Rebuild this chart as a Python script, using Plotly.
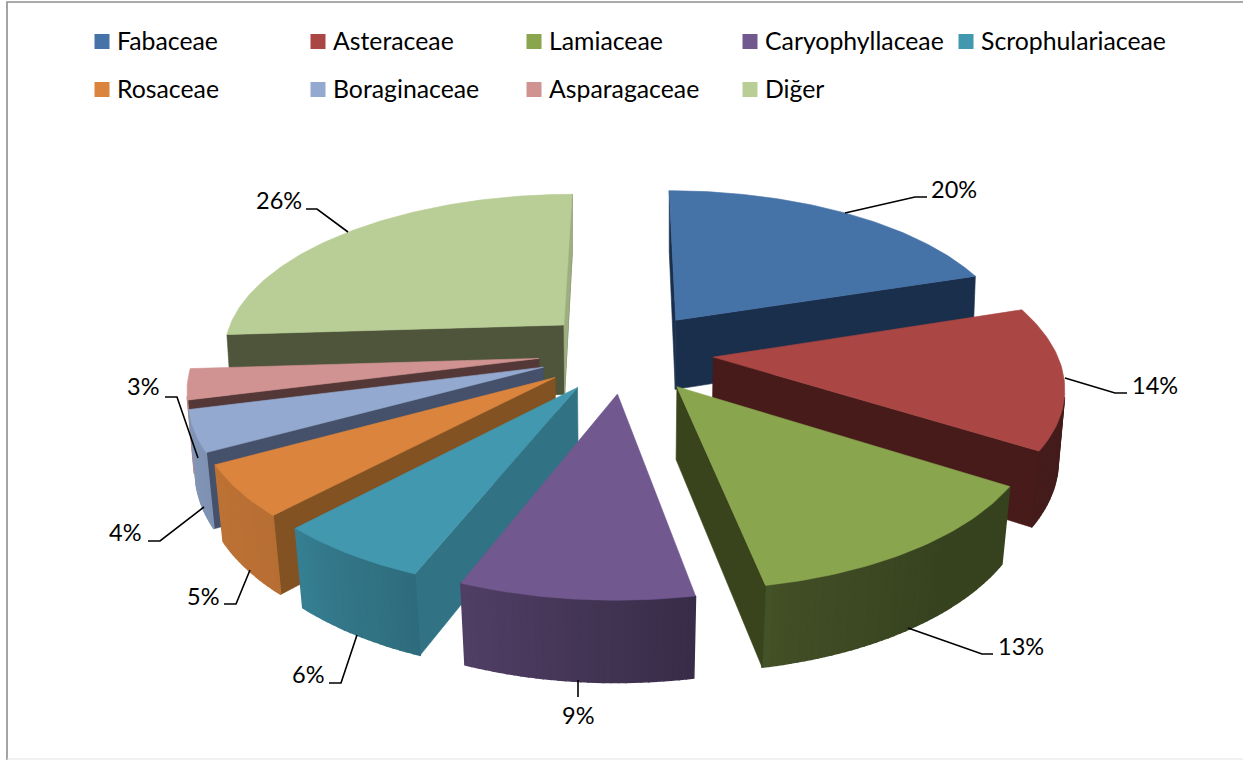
import numpy as np
import plotly.graph_objects as go

# ---- data ----
families = ["Fabaceae", "Asteraceae", "Lamiaceae", "Caryophyllaceae", "Scrophulariaceae",
            "Rosaceae", "Boraginaceae", "Asparagaceae", "Diğer"]
shares = [20, 14, 13, 9, 6, 5, 4, 3, 26]

# ---- styles ----
top_colors = ["#4572A7", "#AA4643", "#89A54E", "#71588F", "#4198AF",
              "#DB843D", "#93A9CF", "#D19392", "#B9CD96"]
cut_colors = ["#1A2F4B", "#471B19", "#39441D", "#3A2C4E", "#317385",
              "#835222", "#45506A", "#543838", "#4E553A"]
FONT = "Lato"
LEGEND_SIZE = 24.8
LABEL_SIZE = 23.5

# ---- 3D pie projection (perspective of the ground plane) ----
CX, CY = 626, 352
RX, RY = 343, 159
PERSP = 0.157
EXPLODE = 0.255


def project(u, v):
    s = 1 / (1 - PERSP * v)
    return CX + RX * u * s, CY + RY * v * s


def drop(u, v):
    x, y = project(u, v)
    return CX + (x - CX) * (1 - 0.0105 * (v + 1.2)), y + 71 + 9 * v


def shade(hex_color, k):
    rgb = [int(hex_color[i:i + 2], 16) for i in (1, 3, 5)]
    return "rgb(%d,%d,%d)" % tuple(round(c * k) for c in rgb)


def wall_brightness(deg):
    return float(np.interp(deg, [90, 140, 165, 200, 225, 265], [.40, .40, .47, .70, .84, .90]))


def poly(points, color, name, group, width=0.6):
    xs = [p[0] for p in points] + [points[0][0]]
    ys = [p[1] for p in points] + [points[0][1]]
    return go.Scatter(x=xs, y=ys, mode="lines", fill="toself", fillcolor=color,
                      line=dict(color=color, width=width), name=name, legendgroup=group,
                      showlegend=False, hoverinfo="name")


def signed_area(q):
    return sum(q[i][0] * q[(i + 1) % len(q)][1] - q[(i + 1) % len(q)][0] * q[i][1]
               for i in range(len(q)))


edges = np.cumsum([0] + shares) / sum(shares) * 360
slices = []
for i, name in enumerate(families):
    a0, a1 = edges[i], edges[i + 1]
    mid = np.radians((a0 + a1) / 2)
    ou, ov = EXPLODE * np.sin(mid), -EXPLODE * np.cos(mid)
    slices.append((ov, i, a0, a1, ou, ov))

fig = go.Figure()
for _, i, a0, a1, ou, ov in sorted(slices):
    name = families[i]
    degs = np.linspace(a0, a1, max(8, int(a1 - a0)))
    ground = [(ou, ov)] + [(ou + np.sin(np.radians(d)), ov - np.cos(np.radians(d))) for d in degs]
    tops = [project(*g) for g in ground]
    bots = [drop(*g) for g in ground]
    n = len(ground)
    for j in range(n):
        k = (j + 1) % n
        quad = [tops[j], tops[k], bots[k], bots[j]]
        if signed_area(quad) >= 0:
            continue
        if j == 0 or k == 0:
            fig.add_trace(poly(quad, cut_colors[i], name, name))
        else:
            col = shade(top_colors[i], wall_brightness((degs[j - 1] + degs[k - 1]) / 2))
            fig.add_trace(poly(quad, col, name, name, width=1.5))
    # Diğer shows a lighter closing cut face at 12 o'clock
    if name == "Diğer":
        quad = [tops[n - 1], tops[0], bots[0], bots[n - 1]]
        fig.add_trace(poly(quad, shade(top_colors[i], 0.85), name, name))
    fig.add_trace(poly(tops, top_colors[i], name, name))

# ---- legend ----
legend_cols = [102, 318, 534, 750, 966]
legend_rows = [41.5, 89.5]
annotations = []
for i, name in enumerate(families):
    lx = legend_cols[i % 5]
    ly = legend_rows[i // 5]
    fig.add_trace(go.Scatter(x=[lx], y=[ly], mode="markers", name=name, showlegend=False,
                             marker=dict(symbol="square", size=15, color=top_colors[i]),
                             hoverinfo="name"))
    annotations.append(dict(x=lx + 13, y=ly - 1, text=name, xanchor="left", yanchor="middle",
                            showarrow=False, xref="x", yref="y",
                            font=dict(family=FONT, size=LEGEND_SIZE, color="#000000")))

# ---- data labels and their leaders (manual layout in the original) ----
label_xy = [(954, 189), (1155, 385), (1021, 646), (578, 715), (308, 674),
            (203, 596), (125, 532), (143, 386), (279, 200)]
leaders = [
    [(845, 213), (915, 197), (927, 197)],
    [(1065, 378), (1115, 393), (1127, 393)],
    [(908, 628), (982, 654), (993, 654)],
    [(578, 680), (578, 697)],
    [(357, 635), (341, 683), (329, 683)],
    [(250, 570), (236, 604), (224, 604)],
    [(204, 507), (160, 541), (148, 541)],
    [(198, 458), (177, 397), (165, 397)],
    [(348, 232), (317, 209), (306, 209)],
]
shapes = []
for share, (lx, ly), path in zip(shares, label_xy, leaders):
    annotations.append(dict(x=lx, y=ly, text=f"{share}%", xanchor="center", yanchor="middle",
                            showarrow=False, xref="x", yref="y",
                            font=dict(family=FONT, size=LABEL_SIZE, color="#000000")))
    shapes.append(dict(type="path", xref="x", yref="y", layer="above",
                       path="M" + " L".join(f"{x},{y}" for x, y in path),
                       line=dict(color="#000000", width=1.6)))

# ---- chart frame ----
shapes.append(dict(type="path", xref="x", yref="y", layer="above",
                   path="M7,760 L7,2 L1243,2", line=dict(color="#8E8E8E", width=1.6)))
shapes.append(dict(type="line", xref="x", yref="y", layer="above", x0=7, x1=1243, y0=759, y1=759,
                   line=dict(color="#E6E6E6", width=1.2)))

fig.update_layout(
    width=1243, height=760, margin=dict(l=0, r=0, t=0, b=0),
    paper_bgcolor="white", plot_bgcolor="white", showlegend=False,
    xaxis=dict(range=[0, 1243], visible=False, fixedrange=True),
    yaxis=dict(range=[760, 0], visible=False, fixedrange=True),
    annotations=annotations, shapes=shapes,
)
fig.write_html("out.html", config=dict(displayModeBar=False),
               post_script="document.body.style.margin='0';document.body.style.overflow='hidden';")
